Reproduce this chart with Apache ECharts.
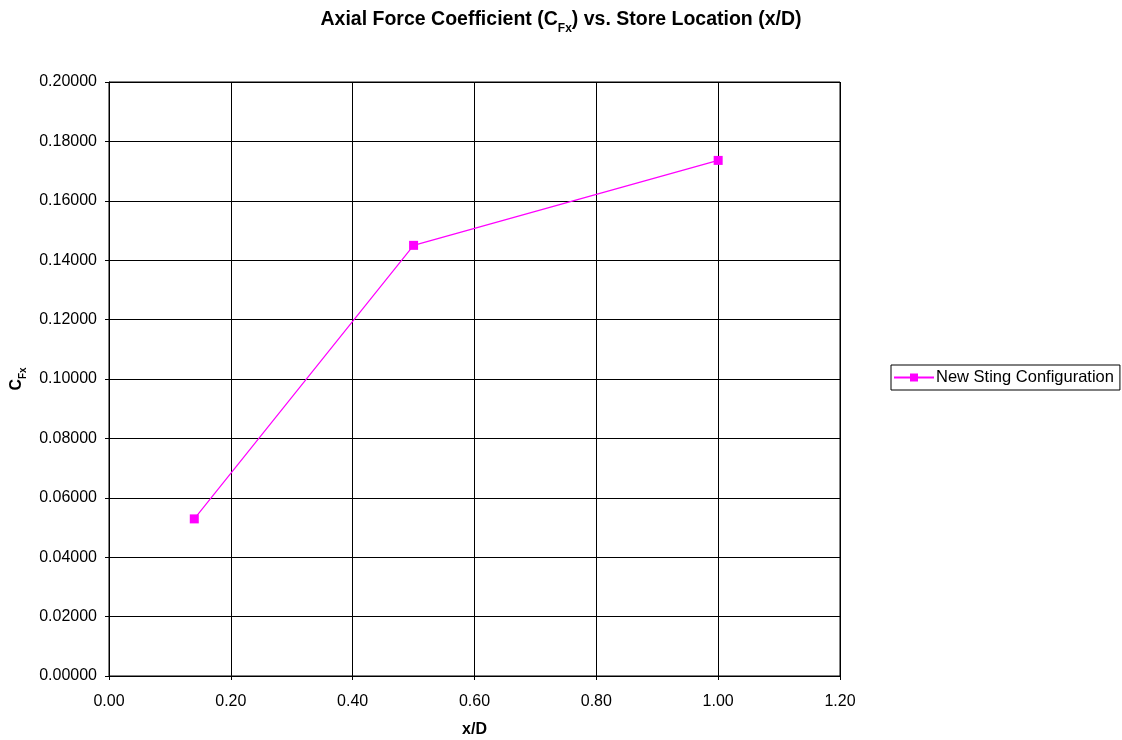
<!DOCTYPE html>
<html><head><meta charset="utf-8">
<script src="https://cdn.jsdelivr.net/npm/echarts@6/dist/echarts.min.js"></script>
<style>html,body{margin:0;padding:0;background:#fff}#c{width:1122px;height:740px}</style>
</head><body><div id="c"></div>
<script>
const xValues = [0.14, 0.50, 1.00];
const cfxValues = [0.05290, 0.14500, 0.17360];
const seriesName = 'New Sting Configuration';

const chart = echarts.init(document.getElementById('c'));
const font = 'Arial, "Liberation Sans", sans-serif';
chart.setOption({
  animation: false,
  backgroundColor: '#fff',
  textStyle: { fontFamily: font },
  title: {
    text: '{b|Axial Force Coefficient (C}{s|Fx}{b|) vs. Store Location (x/D)}',
    left: 'center', top: 1,
    textStyle: {
      rich: {
        b: { fontFamily: font, fontWeight: 'bold', fontSize: 19.5, color: '#000', lineHeight: 24, verticalAlign: 'bottom' },
        s: { fontFamily: font, fontWeight: 'bold', fontSize: 12, color: '#000', lineHeight: 24, verticalAlign: 'bottom', padding: [0, 0, -5, 0] }
      }
    }
  },
  legend: {
    left: 891, top: 365, width: 228,
    orient: 'vertical',
    borderColor: '#000', borderWidth: 1, borderRadius: 0,
    padding: [4, 6, 4, 2],
    itemWidth: 40, itemHeight: 10, itemGap: 0,
    textStyle: { fontFamily: font, fontSize: 16.5, color: '#000', padding: [0, 0, 0, -3] },
    data: [{ name: seriesName }]
  },
  grid: { left: 109, right: 282, top: 82, bottom: 64, outerBoundsMode: 'none', containLabel: false, show: true, borderColor: '#000', borderWidth: 1 },
  xAxis: {
    type: 'value', min: 0, max: 1.2, interval: 0.2,
    name: 'x/D', nameLocation: 'middle', nameGap: 46,
    nameTextStyle: { fontFamily: font, fontWeight: 'bold', fontSize: 16, color: '#000' },
    axisLine: { lineStyle: { color: '#000' } },
    axisTick: { show: true, length: 4, lineStyle: { color: '#000' } },
    axisLabel: { color: '#000', fontSize: 16, fontFamily: font, margin: 18, formatter: v => v.toFixed(2) },
    splitLine: { show: true, lineStyle: { color: '#000', width: 1 } }
  },
  yAxis: {
    type: 'value', min: 0, max: 0.2, interval: 0.02,
    name: '{b|C}{s|Fx}', nameLocation: 'middle', nameGap: 83, nameRotate: 90,
    nameTextStyle: {
      rich: {
        b: { fontFamily: font, fontWeight: 'bold', fontSize: 16, color: '#000', lineHeight: 20, verticalAlign: 'bottom' },
        s: { fontFamily: font, fontWeight: 'bold', fontSize: 10, color: '#000', lineHeight: 20, verticalAlign: 'bottom', padding: [0, 0, -4, 0] }
      }
    },
    axisLine: { show: true, lineStyle: { color: '#000' } },
    axisTick: { show: true, length: 4, lineStyle: { color: '#000' } },
    axisLabel: { color: '#000', fontSize: 16, fontFamily: font, margin: 12, formatter: v => v.toFixed(5) },
    splitLine: { show: true, lineStyle: { color: '#000', width: 1 } }
  },
  series: [{
    name: seriesName, type: 'line',
    data: xValues.map((x, i) => [x, cfxValues[i]]),
    symbol: 'rect', symbolSize: 9,
    lineStyle: { color: '#ff00ff', width: 1.2 },
    itemStyle: { color: '#ff00ff', borderWidth: 0 }
  }]
});
</script></body></html>
